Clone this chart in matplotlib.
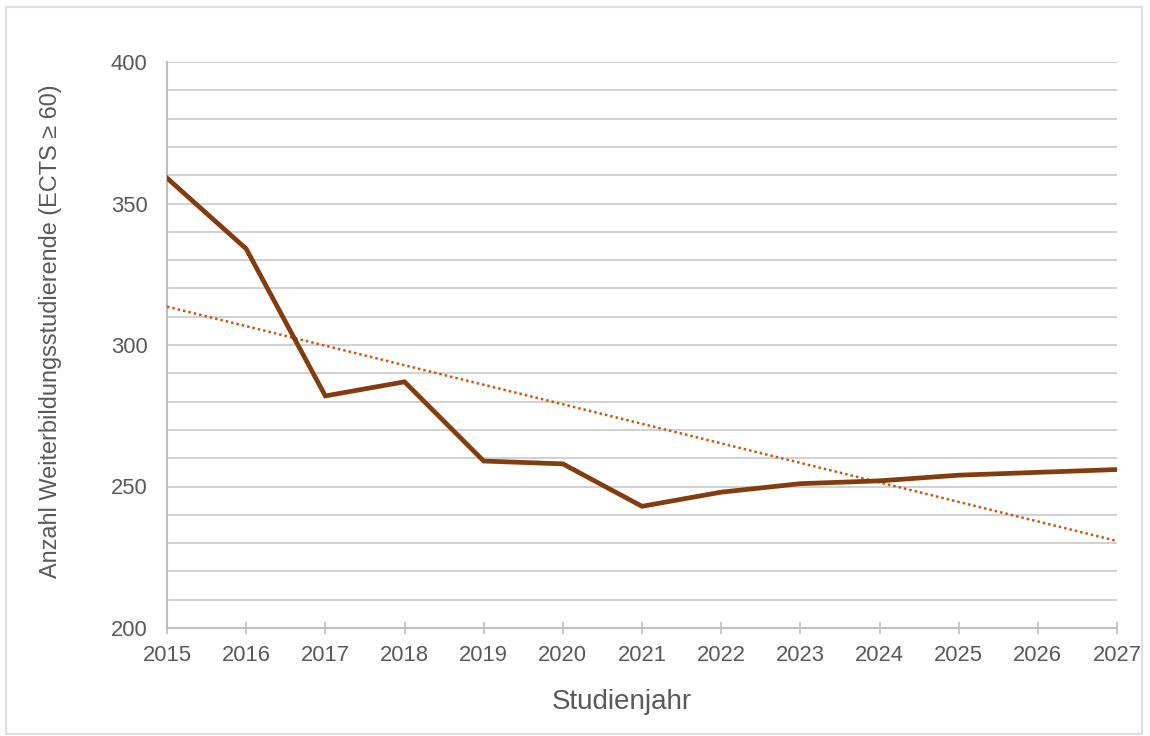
import matplotlib.pyplot as plt
import numpy as np
from matplotlib.patches import Rectangle


plt.rcParams["font.family"] = ["Liberation Sans", "DejaVu Sans"]

# Studierende in Weiterbildungsstudiengängen (ECTS >= 60) pro Studienjahr
years = np.array([2015, 2016, 2017, 2018, 2019, 2020, 2021, 2022, 2023, 2024, 2025, 2026, 2027])
students = np.array([359, 334, 282, 287, 259, 258, 243, 248, 251, 252, 254, 255, 256])

y_ticks = [200, 250, 300, 350, 400]
x_label = "Studienjahr"
y_label = "Anzahl Weiterbildungsstudierende (ECTS \u2265 60)"

TEXT_COLOR = "#595959"
GRID_COLOR = "#c9c9c9"
LINE_COLOR = "#843c0c"
TREND_COLOR = "#c55a11"

fig = plt.figure(figsize=(11.5, 7.36), dpi=100)
fig.patches.append(
    Rectangle((6 / 1150, 2 / 736), 1136 / 1150, 727 / 736, transform=fig.transFigure,
              fill=False, edgecolor="#dedede", linewidth=1.5)
)
ax = fig.add_axes([167 / 1150, 1 - 628 / 736, 950 / 1150, 566 / 736])

# linear trend over all years
slope, intercept = np.polyfit(years, students, 1)
ax.plot(years, slope * years + intercept, color=TREND_COLOR, linewidth=1.8,
        linestyle=(0, (1, 1.2)), zorder=3)
ax.plot(years, students, color=LINE_COLOR, linewidth=3.4, solid_joinstyle="miter", zorder=4)

ax.set_xlim(2015, 2027)
ax.set_ylim(200, 400)
ax.set_xticks(years)
ax.set_yticks(y_ticks)
ax.set_yticks(np.arange(210, 401, 10), minor=True)

ax.grid(True, axis="y", which="both", color=GRID_COLOR, linewidth=1.2)
ax.grid(False, axis="x")
ax.set_axisbelow(True)

for side in ("top", "right"):
    ax.spines[side].set_visible(False)
for side in ("left", "bottom"):
    ax.spines[side].set_color("#bfbfbf")
    ax.spines[side].set_linewidth(1.5)

ax.tick_params(axis="x", direction="inout", length=8, width=1.2, color="#bfbfbf",
               labelsize=15.8, labelcolor=TEXT_COLOR, pad=8)
ax.tick_params(axis="y", which="both", length=0, labelsize=15.8, labelcolor=TEXT_COLOR, pad=14)

ax.set_xlabel(x_label, fontsize=20, color=TEXT_COLOR)
ax.set_ylabel(y_label, fontsize=16.9, color=TEXT_COLOR)
ax.xaxis.set_label_coords(0.479, -0.108)
ax.yaxis.set_label_coords(-0.1105, 0.5247)

fig.savefig("out.png", dpi=100, facecolor="white")
